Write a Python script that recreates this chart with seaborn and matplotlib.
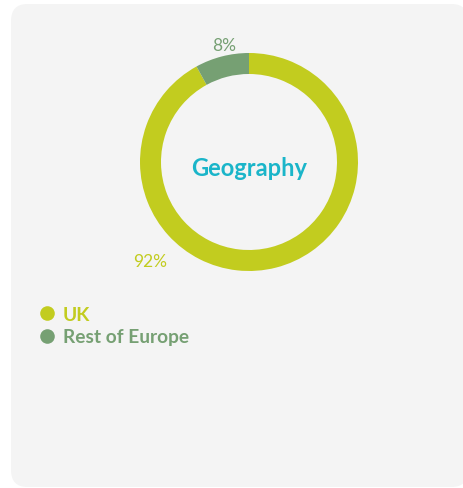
import matplotlib
matplotlib.use('Agg')
import matplotlib.pyplot as plt
import seaborn as sns
from matplotlib.patches import FancyBboxPatch
from matplotlib.lines import Line2D

# data
regions = ['UK', 'Rest of Europe']
shares = [92, 8]
colors = ['#c2cc1f', '#76a073']
title = 'Geography'

sns.set_theme(style='white')
plt.rcParams['font.family'] = ['Lato', 'DejaVu Sans']

W, H = 464, 489
fig = plt.figure(figsize=(W / 100, H / 100), dpi=100)
fig.patch.set_facecolor('white')

# rounded card background
card = FancyBboxPatch((11 / W, 1 - 488 / H), 457 / W, 483 / H,
                      boxstyle='round,pad=0,rounding_size=0.035',
                      transform=fig.transFigure, facecolor='#f4f4f4',
                      edgecolor='none', zorder=-10)
fig.add_artist(card)

# donut axes placed on the ring's bounding box
cx, cy, r = 249, 163, 109
ax = fig.add_axes([(cx - r) / W, 1 - (cy + r) / H, 2 * r / W, 2 * r / H])
ax.set_zorder(2)
ax.set_facecolor('none')
wedges, _ = ax.pie(shares, colors=colors, startangle=90, counterclock=False,
                   radius=1, wedgeprops=dict(width=21 / 109, linewidth=0))
ax.set_xlim(-1, 1)
ax.set_ylim(-1, 1)
ax.set_aspect('equal')
ax.axis('off')

ax.text(0, -0.05, title, ha='center', va='center', fontsize=17,
        fontweight='bold', color='#1ab5c9')
ax.text(-0.23, 1.07, f'{shares[1]}%', ha='center', va='center', fontsize=12.5,
        fontweight='normal', color=colors[1], clip_on=False)
ax.text(-0.91, -0.91, f'{shares[0]}%', ha='center', va='center', fontsize=12.5,
        fontweight='normal', color=colors[0], clip_on=False)

# legend
handles = [Line2D([0], [0], marker='o', linestyle='', markersize=10.5,
                  markerfacecolor=c, markeredgecolor='none') for c in colors]
leg = fig.legend(handles, regions, loc='upper left',
                 bbox_to_anchor=(40 / W, 1 - 307 / H), frameon=False,
                 handlelength=0.7, handletextpad=0.5, labelspacing=0.28,
                 borderpad=0, borderaxespad=0, prop={'size': 13.8, 'weight': 'bold'})
for txt, c in zip(leg.get_texts(), colors):
    txt.set_color(c)

fig.savefig('out.png', dpi=100, facecolor=fig.get_facecolor())
